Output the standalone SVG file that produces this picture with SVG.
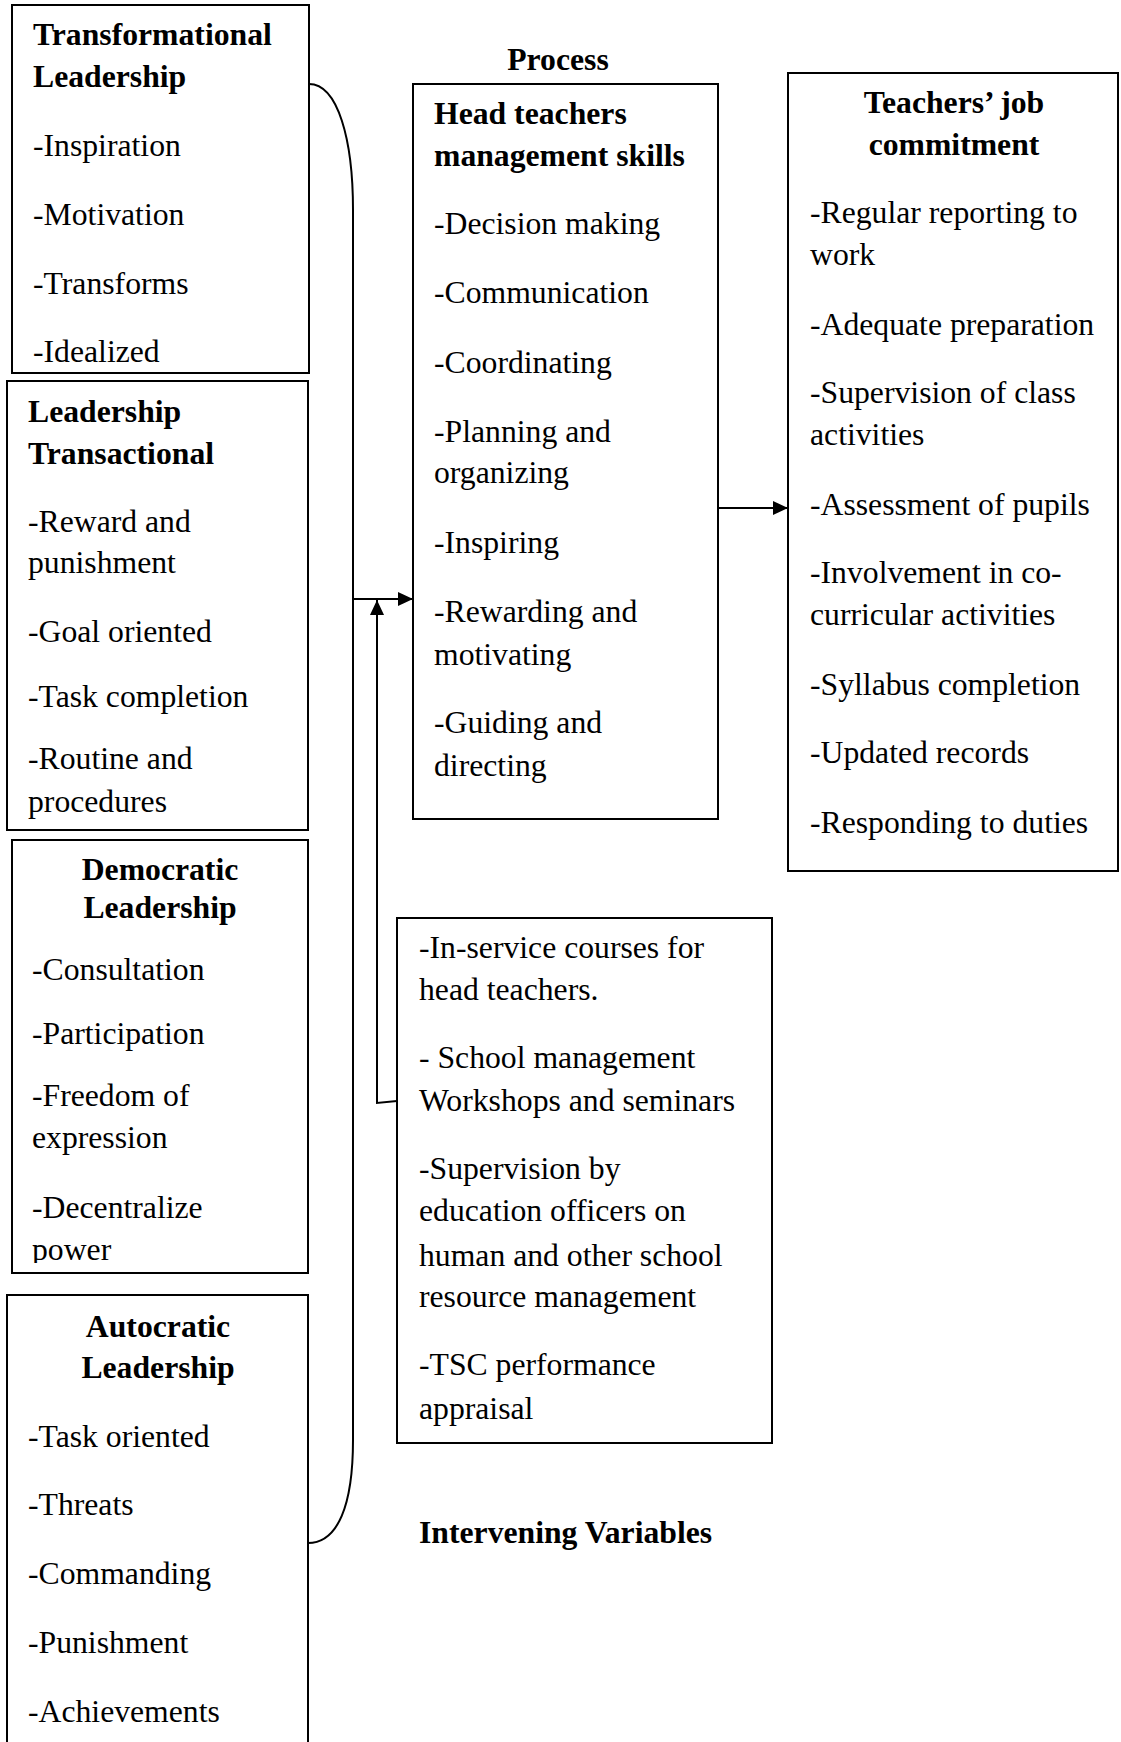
<svg xmlns="http://www.w3.org/2000/svg" width="1121" height="1742" viewBox="0 0 1121 1742">
<style>
.box{fill:#fff;stroke:#000;stroke-width:2}
text{font-family:"Liberation Serif","Times New Roman",serif;font-size:31.7px;fill:#000}
.b{font-weight:bold}
.c{text-anchor:middle}
.ln{fill:none;stroke:#000;stroke-width:2}
</style>
<defs>
<marker id="ah" markerWidth="15" markerHeight="14" refX="15" refY="7" orient="auto" markerUnits="userSpaceOnUse">
<path d="M0,0 L15,7 L0,14 Z" fill="#000"/>
</marker>
<clipPath id="clip3"><rect x="12" y="840" width="296" height="423"/></clipPath>
</defs>
<rect width="1121" height="1742" fill="#fff"/>

<g id="transformational">
<rect class="box" x="12" y="5" width="297" height="368"/>
<text class="b" x="33" y="45">Transformational</text>
<text class="b" x="33" y="87">Leadership</text>
<text x="33" y="156">-Inspiration</text>
<text x="33" y="225">-Motivation</text>
<text x="33" y="294">-Transforms</text>
<text x="33" y="362">-Idealized</text>
</g>

<g id="transactional">
<rect class="box" x="7" y="381" width="301" height="449"/>
<text class="b" x="28" y="422">Leadership</text>
<text class="b" x="28" y="464">Transactional</text>
<text x="28" y="532">-Reward and</text>
<text x="28" y="573">punishment</text>
<text x="28" y="642">-Goal oriented</text>
<text x="28" y="707">-Task completion</text>
<text x="28" y="769">-Routine and</text>
<text x="28" y="812">procedures</text>
</g>

<g id="democratic">
<rect class="box" x="12" y="840" width="296" height="433"/>
<g clip-path="url(#clip3)">
<text class="b c" x="160" y="880">Democratic</text>
<text class="b c" x="160" y="918">Leadership</text>
<text x="32" y="980">-Consultation</text>
<text x="32" y="1044">-Participation</text>
<text x="32" y="1106">-Freedom of</text>
<text x="32" y="1148">expression</text>
<text x="32" y="1218">-Decentralize</text>
<text x="32" y="1260">power</text>
</g>
</g>

<g id="autocratic">
<rect class="box" x="7" y="1295" width="301" height="470"/>
<text class="b c" x="158" y="1337">Autocratic</text>
<text class="b c" x="158" y="1378">Leadership</text>
<text x="28" y="1447">-Task oriented</text>
<text x="28" y="1515">-Threats</text>
<text x="28" y="1584">-Commanding</text>
<text x="28" y="1653">-Punishment</text>
<text x="28" y="1722">-Achievements</text>
</g>

<g id="process">
<text class="b c" x="558" y="70">Process</text>
<rect class="box" x="413" y="84" width="305" height="735"/>
<text class="b" x="434" y="124">Head teachers</text>
<text class="b" x="434" y="166">management skills</text>
<text x="434" y="234">-Decision making</text>
<text x="434" y="303">-Communication</text>
<text x="434" y="373">-Coordinating</text>
<text x="434" y="442">-Planning and</text>
<text x="434" y="483">organizing</text>
<text x="434" y="553">-Inspiring</text>
<text x="434" y="622">-Rewarding and</text>
<text x="434" y="665">motivating</text>
<text x="434" y="733">-Guiding and</text>
<text x="434" y="776">directing</text>
</g>

<g id="commitment">
<rect class="box" x="788" y="73" width="330" height="798"/>
<text class="b c" x="954" y="113">Teachers’ job</text>
<text class="b c" x="954" y="155">commitment</text>
<text x="810" y="223">-Regular reporting to</text>
<text x="810" y="265">work</text>
<text x="810" y="335">-Adequate preparation</text>
<text x="810" y="403">-Supervision of class</text>
<text x="810" y="445">activities</text>
<text x="810" y="515">-Assessment of pupils</text>
<text x="810" y="583">-Involvement in co-</text>
<text x="810" y="625">curricular activities</text>
<text x="810" y="695">-Syllabus completion</text>
<text x="810" y="763">-Updated records</text>
<text x="810" y="833">-Responding to duties</text>
</g>

<g id="intervening">
<rect class="box" x="397" y="918" width="375" height="525"/>
<text x="419" y="958">-In-service courses for</text>
<text x="419" y="1000">head teachers.</text>
<text x="419" y="1068">- School management</text>
<text x="419" y="1111">Workshops and seminars</text>
<text x="419" y="1179">-Supervision by</text>
<text x="419" y="1221">education officers on</text>
<text x="419" y="1266">human and other school</text>
<text x="419" y="1307">resource management</text>
<text x="419" y="1375">-TSC performance</text>
<text x="419" y="1419">appraisal</text>
<text class="b" x="419" y="1543">Intervening Variables</text>
</g>

<g id="connectors">
<path class="ln" d="M309,84 C338,84 353,140 353,210 L353,1440 C353,1505 338,1543 308,1543"/>
<line class="ln" x1="353" y1="599" x2="413" y2="599" marker-end="url(#ah)"/>
<polyline class="ln" points="397,1101 377,1103 377,600" marker-end="url(#ah)"/>
<line class="ln" x1="718" y1="508" x2="788" y2="508" marker-end="url(#ah)"/>
</g>
</svg>
